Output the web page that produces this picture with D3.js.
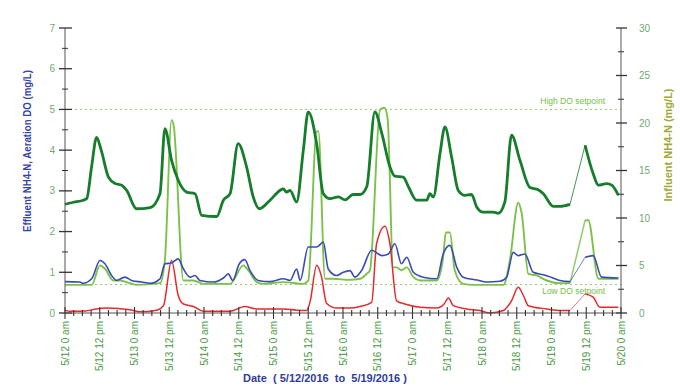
<!DOCTYPE html>
<html><head><meta charset="utf-8">
<script src="https://cdn.jsdelivr.net/npm/d3@7/dist/d3.min.js"></script>
<style>body{margin:0;background:#fff}svg{display:block;font-family:"Liberation Sans",Arial,sans-serif}</style>
</head><body><svg id="c" width="680" height="392"></svg>
<script>
// hours from 5/12 0 am
const xTickLabels = ["5/12 0 am","5/12 12 pm","5/13 0 am","5/13 12 pm","5/14 0 am","5/14 12 pm","5/15 0 am","5/15 12 pm","5/16 0 am","5/16 12 pm","5/17 0 am","5/17 12 pm","5/18 0 am","5/18 12 pm","5/19 0 am","5/19 12 pm","5/20 0 am"];
const leftTicks = [0,1,2,3,4,5,6,7];
const rightTicks = [0,5,10,15,20,25,30];
const highDO = 5, lowDO = 0.7;
const gapHours = [174.4, 179.6];

const aerationDO = [[0,2.67],[3,2.72],[6.3,2.77],[7.5,2.81],[9.2,3.6],[10.9,4.31],[12.5,4.0],[15,3.34],[17.3,3.18],[19.6,3.14],[21.3,3.01],[24.7,2.56],[29.4,2.59],[32.8,2.93],[34.5,4.53],[36.8,3.75],[39.1,3.26],[42,2.97],[44.9,2.93],[47.2,2.40],[52.4,2.37],[54.7,2.77],[57,2.93],[59.8,4.16],[62.7,3.59],[65,2.85],[67.1,2.56],[70.8,2.77],[74.2,3.01],[75.4,3.05],[76.5,2.97],[77.7,3.01],[80,2.73],[82.3,4.0],[84,4.94],[86.9,4.16],[89.2,2.93],[91.5,2.81],[94.4,2.85],[96.7,2.78],[99.5,2.91],[101.9,2.91],[104.2,3.10],[107,4.94],[109.4,4.41],[112.2,3.59],[113.9,3.36],[116.8,3.34],[118.6,3.10],[121.4,2.77],[124.9,2.77],[126,2.93],[127.2,2.85],[129.5,3.92],[131.2,4.57],[133.5,3.83],[135.8,3.01],[138.1,2.89],[140.4,2.91],[142.2,2.60],[144.4,2.48],[147.9,2.48],[149.6,2.45],[151.9,2.73],[154.2,4.37],[157.1,3.75],[160.6,3.08],[163.4,3.03],[165.2,2.93],[168.6,2.62],[170.9,2.62],[174.4,2.67],[179.6,4.12],[182.4,3.42],[184.2,3.14],[187.1,3.18],[188.8,3.14],[191.1,2.89]];

const effluentNH4 = [[0,0.77],[5.1,0.76],[6.3,0.73],[9.2,0.84],[12.1,1.29],[13.8,1.21],[16.1,0.92],[17.8,0.80],[20.7,0.88],[23,0.80],[26.5,0.76],[29.4,0.73],[32.8,0.84],[34.5,1.21],[36.8,1.23],[39.1,1.33],[40.9,1.08],[43.2,0.88],[44.9,0.92],[46.6,0.80],[51.2,0.76],[54.7,0.86],[56.4,0.96],[57.9,0.80],[60.2,1.21],[62.1,1.31],[63.9,1.04],[66.7,0.80],[70.8,0.77],[75.4,0.84],[77.7,0.80],[80,1.08],[81.2,0.80],[84,1.62],[86.9,1.62],[89.2,1.74],[90.9,1.08],[93.8,0.92],[96.1,1.00],[98.4,1.04],[100.1,0.88],[102.4,1.04],[105.9,1.54],[109.4,1.41],[111.7,1.45],[113.9,1.70],[116.2,1.21],[118,1.37],[120.3,1.00],[123.7,0.88],[128.4,0.84],[130.6,1.45],[132.9,1.66],[135.3,1.12],[137.5,0.88],[142.2,0.81],[145.6,0.76],[150.2,0.78],[152.5,0.88],[154.8,1.49],[156.5,1.41],[158.8,1.45],[161.7,1.00],[165.2,0.94],[168.6,0.86],[170.9,0.80],[174.4,0.77],[179.6,1.37],[182.4,1.41],[185.3,0.88],[191.1,0.86]];

const effluentRed = [[0,0.07],[1.7,0.04],[7,0.05],[10.9,0.10],[14.4,0.12],[22.4,0.08],[25.9,0.03],[31.7,0.07],[34,0.18],[36.8,1.29],[39.1,0.43],[40.9,0.22],[44.3,0.16],[47.8,0.04],[57,0.04],[62.1,0.16],[66.2,0.10],[75.4,0.10],[80,0.07],[83.5,0.06],[84.7,0.30],[86.9,1.17],[88.6,0.88],[90.3,0.24],[93.8,0.12],[98.4,0.12],[101.9,0.16],[105.9,0.26],[107.6,1.70],[110.5,2.13],[112.2,1.70],[114.5,0.30],[118,0.21],[122.6,0.14],[128.4,0.12],[130.9,0.22],[132.4,0.37],[134.1,0.18],[138.7,0.10],[143.3,0.06],[146.8,0.00],[151.4,0.06],[154.2,0.30],[156.5,0.63],[158.3,0.43],[160,0.18],[166.3,0.10],[169.8,0.07],[174.4,0.06],[179.6,0.47],[182.4,0.39],[184.7,0.14],[191.1,0.14]];

const influentNH4 = [[0,2.96],[9.2,2.96],[12.1,5.01],[13.8,4.66],[16.7,3.42],[19,3.42],[22.4,3.14],[24.7,2.96],[32.8,3.14],[34.5,5.6],[36.8,20.3],[37.5,19.8],[40.9,3.42],[44.3,3.42],[47.8,3.07],[57,3.07],[61.6,5.01],[63.3,4.48],[66.2,3.25],[68.5,3.07],[75.4,3.25],[82.3,3.07],[84,3.4],[86.9,19.1],[87.5,19.1],[89.8,3.6],[92.6,3.6],[98.4,3.49],[101.9,3.6],[104.2,4.13],[105.3,4.48],[108.8,21.4],[110.3,21.6],[111.4,20.5],[113.3,4.8],[114.5,4.8],[116.2,4.5],[118,4.8],[120.3,3.77],[122.6,3.42],[128.4,3.42],[130.6,5.9],[131.5,8.47],[132.9,8.47],[134.6,4.48],[137.5,3.07],[141,2.96],[151.4,2.96],[153.6,5.5],[156.5,11.6],[157.7,10.5],[160,4.13],[162.9,3.95],[166.3,3.42],[170.9,3.14],[174.4,3.14],[179.6,9.77],[180.7,9.77],[184.2,3.6],[191.1,3.6]];

const svg = d3.select("#c");
const x = d3.scaleLinear().domain([0,192]).range([65,621]);
const yL = d3.scaleLinear().domain([0,7]).range([313,28]);
const yR = d3.scaleLinear().domain([0,30]).range([313,28]);

// setpoints
[[highDO,"High DO setpoint",-5],[lowDO,"Low DO setpoint",9]].forEach(([v,t,dy])=>{
  svg.append("line").attr("x1",x(0)).attr("x2",x(192)).attr("y1",yL(v)).attr("y2",yL(v))
    .attr("stroke","#8fd070").attr("stroke-width",1).attr("stroke-dasharray","2,3");
  svg.append("text").attr("x",x(192)-16).attr("y",yL(v)+dy).attr("text-anchor","end")
    .attr("font-size",8.5).attr("fill","#74c044").text(t);
});

function drawSeries(data, yS, color, w, gapW){
  const line = d3.line().x(d=>x(d[0])).y(d=>yS(d[1])).curve(d3.curveMonotoneX);
  const a = data.filter(d=>d[0]<=gapHours[0]);
  const b = data.filter(d=>d[0]>=gapHours[1]);
  const g = data.filter(d=>d[0]>=gapHours[0] && d[0]<=gapHours[1]);
  [a,b].forEach(s=>svg.append("path").attr("d",line(s)).attr("fill","none").attr("stroke",color)
    .attr("stroke-width",w).attr("stroke-linejoin","round"));
  svg.append("path").attr("d",d3.line().x(d=>x(d[0])).y(d=>yS(d[1]))(g)).attr("fill","none")
    .attr("stroke",color).attr("stroke-width",gapW).attr("opacity",0.8);
}
drawSeries(influentNH4, yR, "#7cc24a", 1.9, 1.6);
drawSeries(effluentRed, yL, "#e42a2c", 1.5, 0.8);
drawSeries(effluentNH4, yL, "#3a4cb2", 1.6, 0.9);
drawSeries(aerationDO, yL, "#167d2c", 2.8, 1.0);

const axisCol = "#555";
// left axis
const gL = svg.append("g").attr("transform","translate(65,0)");
gL.append("line").attr("y1",yL(7)).attr("y2",yL(0)).attr("stroke",axisCol);
d3.range(0,7.01,0.5).forEach(v=>{
  const major = Number.isInteger(v);
  gL.append("line").attr("x1",major?-6:-3).attr("x2",major?7:3).attr("y1",yL(v)).attr("y2",yL(v)).attr("stroke","#333").attr("stroke-width",major?1.3:1);
});
leftTicks.forEach(v=>gL.append("text").attr("x",-10).attr("y",yL(v)).attr("dy","0.35em").attr("text-anchor","end")
  .attr("font-size",10).attr("fill","#72aa72").text(v));
// right axis
const gR = svg.append("g").attr("transform","translate(621,0)");
gR.append("line").attr("y1",yR(30)).attr("y2",yR(0)).attr("stroke",axisCol);
d3.range(0,30.01,2.5).forEach(v=>{
  const major = v%5===0;
  gR.append("line").attr("x1",major?-5:-3).attr("x2",major?6:3).attr("y1",yR(v)).attr("y2",yR(v)).attr("stroke","#333").attr("stroke-width",major?1.3:1);
});
rightTicks.forEach(v=>gR.append("text").attr("x",18).attr("y",yR(v)).attr("dy","0.35em").attr("text-anchor","start")
  .attr("font-size",10).attr("fill","#72aa72").text(v));
// bottom axis
const gB = svg.append("g");
gB.append("line").attr("x1",x(0)).attr("x2",x(192)).attr("y1",313).attr("y2",313).attr("stroke",axisCol).attr("stroke-width",1.2);
d3.range(0,192.01,3).forEach(h=>{
  const major = h%12===0;
  gB.append("line").attr("x1",x(h)).attr("x2",x(h)).attr("y1",major?307:310).attr("y2",major?319:316).attr("stroke","#333").attr("stroke-width",1.1);
});
xTickLabels.forEach((t,i)=>{
  const h = i*12;
  gB.append("text").attr("transform",`translate(${x(h)},321) rotate(-90)`).attr("text-anchor","end")
    .attr("dy","0.35em").attr("font-size",10).attr("fill","#4a9a44").text(t);
});
// titles
svg.append("text").attr("x",325).attr("y",382).attr("text-anchor","middle").attr("font-size",11)
  .attr("font-weight","bold").attr("fill","#2f3c9c").attr("xml:space","preserve").text("Date  ( 5/12/2016  to  5/19/2016 )");
svg.append("text").attr("transform","translate(31,151) rotate(-90)").attr("text-anchor","middle").attr("font-size",10.5)
  .attr("font-weight","bold").attr("fill","#3543a6").attr("textLength",162).attr("lengthAdjust","spacingAndGlyphs")
  .text("Effluent NH4-N, Aeration DO (mg/L)");
svg.append("text").attr("transform","translate(672,145) rotate(-90)").attr("text-anchor","middle").attr("font-size",11)
  .attr("font-weight","bold").attr("fill","#a3a836").text("Influent NH4-N (mg/L)");
</script></body></html>
